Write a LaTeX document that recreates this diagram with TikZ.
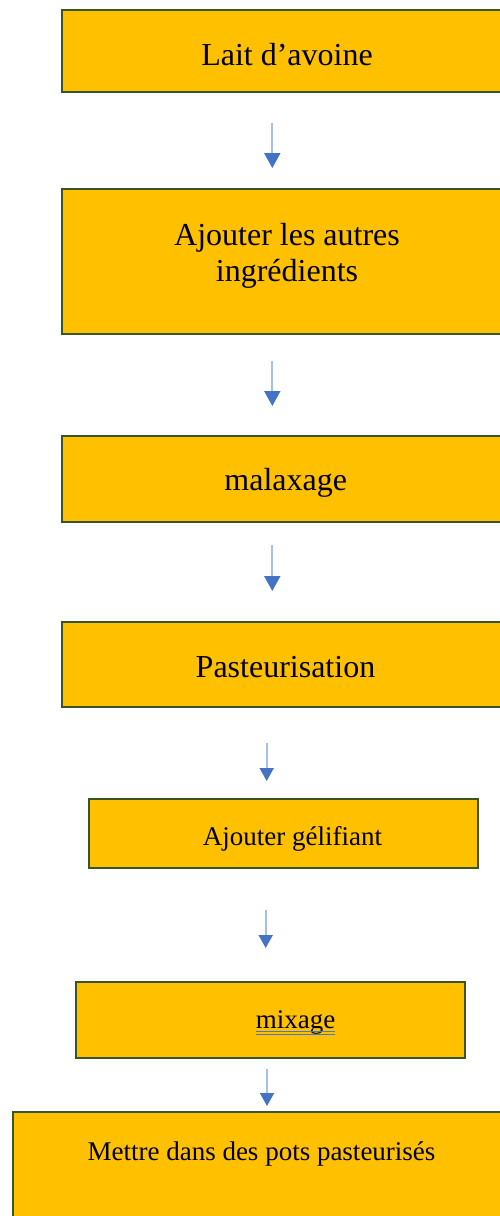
\documentclass[tikz,border=0pt]{standalone}
\usepackage{fontspec}
\setmainfont{Liberation Serif}
\usetikzlibrary{arrows.meta,calc}
\definecolor{boxfill}{HTML}{FFC000}
\definecolor{boxline}{HTML}{375623}
\definecolor{shaftblue}{HTML}{A8BEE6}
\definecolor{headblue}{HTML}{4472C4}
\definecolor{spellblue}{HTML}{4A78C8}
\begin{document}
\begin{tikzpicture}[x=1pt,y=-1pt,
  stepbox/.style={draw=boxline,fill=boxfill,line width=2pt,rectangle,inner sep=0pt},
  bigtxt/.style={inner sep=0pt,anchor=base,font=\fontsize{32}{35.3}\selectfont,align=center},
  smalltxt/.style={inner sep=0pt,anchor=base,font=\fontsize{27}{31}\selectfont},
  flow/.style={draw=shaftblue,line width=2pt,
    -{Triangle[width=16pt,length=15pt,color=headblue]}},
  flowsmall/.style={draw=shaftblue,line width=2pt,
    -{Triangle[width=14pt,length=13pt,color=headblue]}},
  spell/.style={draw=spellblue,line width=0.9pt}]
\path[use as bounding box,clip] (0,0) rectangle (500,1216);

% process boxes
\node[stepbox,minimum width=449.7pt,minimum height=82.2pt]  (b1) at (287,50.6) {};
\node[stepbox,minimum width=449.7pt,minimum height=144.7pt] (b2) at (287,261.7) {};
\node[stepbox,minimum width=449.7pt,minimum height=86pt]    (b3) at (287,479) {};
\node[stepbox,minimum width=449.7pt,minimum height=85pt]    (b4) at (287,664.5) {};
\node[stepbox,minimum width=389pt,minimum height=69pt]      (b5) at (283.5,833.5) {};
\node[stepbox,minimum width=389pt,minimum height=76pt]      (b6) at (270.5,1020) {};
\node[stepbox,minimum width=499pt,minimum height=128pt]     (b7) at (262.5,1176) {};

% labels (the base of a two-line label is its last line)
\node[bigtxt]   (t1) at (287,65.7)   {Lait d’avoine};
\node[bigtxt]   (t2) at (287,281)    {Ajouter les autres\\ingrédients};
\node[bigtxt]   (t3) at (285.7,490.7) {malaxage};
\node[bigtxt]   (t4) at (285.5,677.7) {Pasteurisation};
\node[smalltxt] (t5) at (292.5,845)  {Ajouter gélifiant};
\node[smalltxt] (t6) at (295.5,1028.3) {mixage};
\node[smalltxt] (t7) at (261.5,1160) {Mettre dans des pots pasteurisés};

% spelling underline under "mixage"
\draw[spell] ($(t6.base west)+(0,3)$) -- ($(t6.base east)+(0,3)$);
\draw[spell] ($(t6.base west)+(0,5.8)$) -- ($(t6.base east)+(0,5.8)$);

% arrow columns
\coordinate (c1) at (272.3,0);
\coordinate (c4) at (266.7,0);
\coordinate (c5) at (265.7,0);
\coordinate (c6) at (267,0);

% connectors
\draw[flow] ($(b1.south -| c1)+(0,30.3)$) -- ($(b2.north -| c1)+(0,-20.3)$);
\draw[flow] ($(b2.south -| c1)+(0,26)$)   -- ($(b3.north -| c1)+(0,-29)$);
\draw[flow] ($(b3.south -| c1)+(0,22)$)   -- ($(b4.north -| c1)+(0,-30)$);
\draw[flowsmall] ($(b4.south -| c4)+(0,35)$) -- ($(b5.north -| c4)+(0,-17)$);
\draw[flowsmall] ($(b5.south -| c5)+(0,41)$) -- ($(b6.north -| c5)+(0,-33)$);
\draw[flowsmall] ($(b6.south -| c6)+(0,10)$) -- ($(b7.north -| c6)+(0,-5)$);
\end{tikzpicture}
\end{document}
